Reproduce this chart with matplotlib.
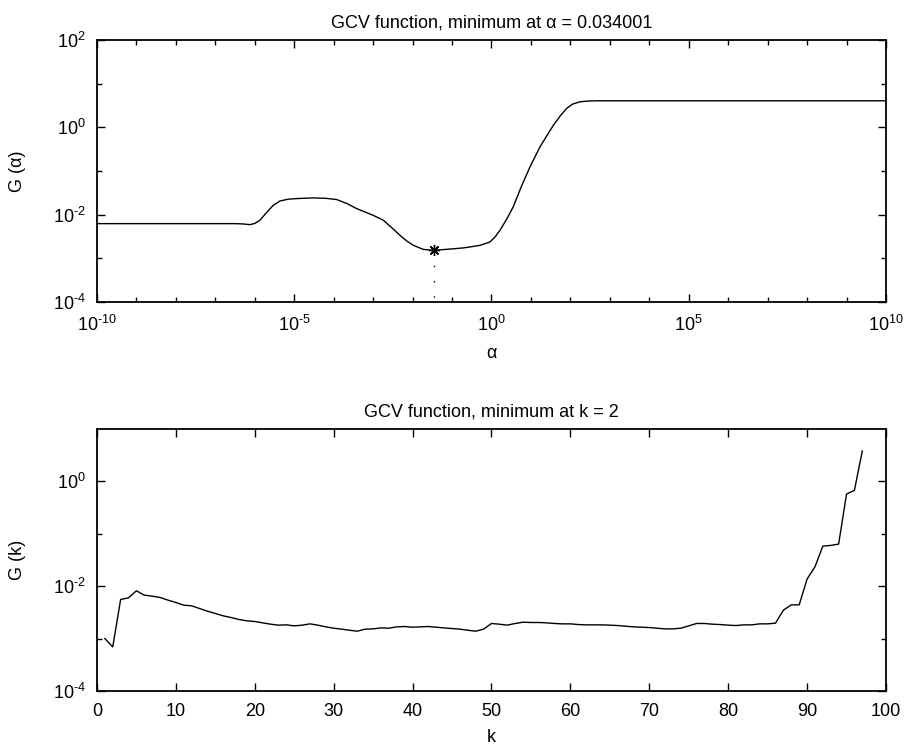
import numpy as np
import matplotlib
matplotlib.use("Agg")
import matplotlib.pyplot as plt
from matplotlib.ticker import FixedLocator, FuncFormatter, NullFormatter

plt.rcParams["font.family"] = ["Liberation Sans", "DejaVu Sans"]
plt.rcParams["mathtext.fontset"] = "custom"
plt.rcParams["mathtext.rm"] = "Liberation Sans"
plt.rcParams["mathtext.it"] = "Liberation Sans:italic"
plt.rcParams["axes.unicode_minus"] = False
plt.rcParams["font.size"] = 13

# GCV function vs regularization parameter (log10 values)
log_alpha = [-10, -6.5, -6.3, -6.12, -6.0, -5.87, -5.7, -5.53, -5.36, -5.15,
             -4.94, -4.52, -4.2, -3.92, -3.65, -3.42, -3.2, -3.00, -2.74, -2.5,
             -2.32, -2.15, -1.98, -1.73, -1.47, -1.14, -0.7, -0.29, -0.04, 0.1,
             0.215, 0.4, 0.55, 0.76, 0.976, 1.23, 1.57, 1.75, 1.906, 2.05,
             2.24, 2.45, 2.67, 10]
log_G_alpha = [-2.205, -2.205, -2.212, -2.228, -2.2, -2.128, -1.95, -1.784, -1.686, -1.645,
               -1.631, -1.616, -1.625, -1.654, -1.75, -1.860, -1.94, -2.014, -2.128, -2.32,
               -2.472, -2.6, -2.702, -2.794, -2.817, -2.794, -2.76, -2.702, -2.626, -2.5,
               -2.358, -2.08, -1.823, -1.35, -0.906, -0.447, 0.050, 0.27, 0.433, 0.53,
               0.585, 0.602, 0.608, 0.608]
alpha_min = 0.034001
G_min = 10 ** -2.80

# GCV function vs truncation index k = 1..97
k = np.arange(1, 98)
log_G_k = [-2.999, -3.158, -2.254, -2.222, -2.088, -2.171, -2.190, -2.216, -2.266, -2.311,
           -2.362, -2.375, -2.426, -2.477, -2.521, -2.566, -2.598, -2.636, -2.661, -2.674,
           -2.700, -2.725, -2.744, -2.738, -2.757, -2.744, -2.719, -2.744, -2.776, -2.802,
           -2.820, -2.841, -2.859, -2.820, -2.815, -2.796, -2.802, -2.776, -2.770, -2.783,
           -2.776, -2.770, -2.783, -2.796, -2.808, -2.820, -2.841, -2.859, -2.820, -2.712,
           -2.725, -2.744, -2.712, -2.687, -2.693, -2.693, -2.700, -2.712, -2.719, -2.719,
           -2.732, -2.738, -2.738, -2.738, -2.744, -2.751, -2.764, -2.776, -2.783, -2.789,
           -2.802, -2.815, -2.815, -2.802, -2.757, -2.712, -2.712, -2.725, -2.732, -2.744,
           -2.751, -2.738, -2.738, -2.719, -2.719, -2.706, -2.457, -2.356, -2.356, -1.865,
           -1.630, -1.235, -1.222, -1.197, -0.242, -0.172, 0.580]
k_min = 2


def pow10_label(v, pos):
    e = int(round(np.log10(v)))
    if e < 0:
        return r"$\mathdefault{10^{\text{-}%d}}$" % (-e)
    return r"$\mathdefault{10^{%d}}$" % e


def matlab_axes(ax):
    for s in ax.spines.values():
        s.set_linewidth(1.3)
    ax.tick_params(which="both", direction="in", top=True, right=True, width=1.0)
    ax.tick_params(which="major", length=6)
    ax.tick_params(which="minor", length=3.5)


fig = plt.figure(figsize=(9.13, 7.45), dpi=100)

# top: G(alpha)
ax1 = fig.add_axes([0.1062, 0.5946, 0.8642, 0.3517])
ax1.loglog(10.0 ** np.array(log_alpha), 10.0 ** np.array(log_G_alpha), color="k", lw=1.0)
ax1.plot([alpha_min, alpha_min], [G_min, 1e-4], color="k", lw=1.0,
         linestyle=(0, (1, 10)))
ax1.plot(alpha_min, G_min, marker=(8, 2, 0), color="k", ms=8, mew=1.0)
ax1.set_xlim(1e-10, 1e10)
ax1.set_ylim(1e-4, 1e2)
ax1.xaxis.set_major_locator(FixedLocator([1e-10, 1e-5, 1e0, 1e5, 1e10]))
ax1.xaxis.set_minor_locator(FixedLocator([10.0 ** e for e in range(-10, 11)]))
ax1.yaxis.set_major_locator(FixedLocator([1e-4, 1e-2, 1e0, 1e2]))
ax1.yaxis.set_minor_locator(FixedLocator([1e-3, 1e-1, 1e1]))
ax1.xaxis.set_major_formatter(FuncFormatter(pow10_label))
ax1.yaxis.set_major_formatter(FuncFormatter(pow10_label))
ax1.xaxis.set_minor_formatter(NullFormatter())
ax1.yaxis.set_minor_formatter(NullFormatter())
matlab_axes(ax1)
ax1.tick_params(axis="x", which="major", pad=9)
ax1.tick_params(axis="y", which="major", pad=8)
ax1.set_title("GCV function, minimum at \u03b1 = %g" % alpha_min, fontsize=13, pad=9)
ax1.set_xlabel("\u03b1")
ax1.set_ylabel("G (\u03b1)")
ax1.xaxis.set_label_coords(0.5, -0.165)
ax1.yaxis.set_label_coords(-0.09, 0.5)

# bottom: G(k)
ax2 = fig.add_axes([0.1062, 0.0725, 0.8642, 0.3517])
ax2.semilogy(k, 10.0 ** np.array(log_G_k), color="k", lw=1.0)
ax2.set_xlim(0, 100)
ax2.set_ylim(1e-4, 1e1)
ax2.set_xticks(np.arange(0, 101, 10))
ax2.yaxis.set_major_locator(FixedLocator([1e-4, 1e-2, 1e0]))
ax2.yaxis.set_minor_locator(FixedLocator([1e-3, 1e-1]))
ax2.yaxis.set_major_formatter(FuncFormatter(pow10_label))
ax2.yaxis.set_minor_formatter(NullFormatter())
matlab_axes(ax2)
ax2.tick_params(axis="x", which="major", pad=9)
ax2.tick_params(axis="y", which="major", pad=8)
ax2.set_title("GCV function, minimum at k = %d" % k_min, fontsize=13, pad=9)
ax2.set_xlabel("k")
ax2.set_ylabel("G (k)")
ax2.xaxis.set_label_coords(0.5, -0.145)
ax2.yaxis.set_label_coords(-0.09, 0.5)

fig.savefig("out.png", dpi=100)
